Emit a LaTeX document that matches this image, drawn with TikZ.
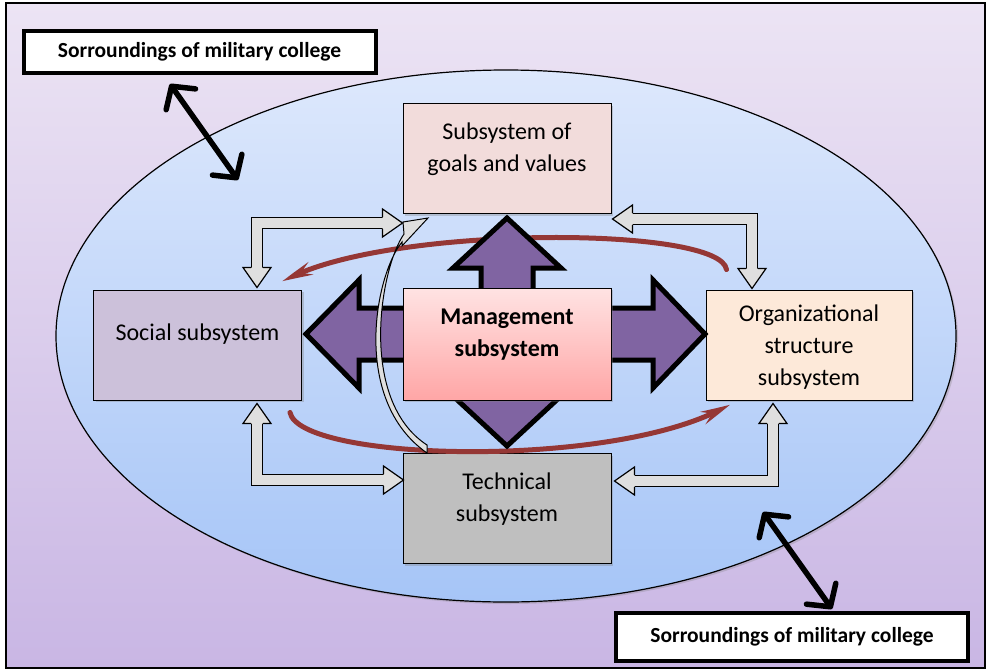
\documentclass[tikz,border=0pt]{standalone}
\usepackage{fontspec}
\setmainfont{Carlito}
\usepackage{tikz}
\usetikzlibrary{arrows.meta,bending,calc,shadows}

\definecolor{bgtop}{HTML}{ECE4F4}
\definecolor{bgbot}{HTML}{C9B6E4}
\definecolor{elltop}{HTML}{DDE8FC}
\definecolor{ellbot}{HTML}{A6C5F7}
\definecolor{goalsfill}{HTML}{F2DCDB}
\definecolor{socialfill}{HTML}{CCC1DA}
\definecolor{orgfill}{HTML}{FDE9D9}
\definecolor{techfill}{HTML}{BFBFBF}
\definecolor{mgmttop}{HTML}{FFE3E3}
\definecolor{mgmtbot}{HTML}{FFA6A6}
\definecolor{crossfill}{HTML}{8064A2}
\definecolor{loopred}{HTML}{953735}

\tikzset{
  subbox/.style={draw, line width=1pt, minimum width=208pt, minimum height=110pt, align=center,
    font=\fontsize{24}{32}\selectfont, text depth=22pt,
    drop shadow={shadow xshift=2pt, shadow yshift=-2pt, opacity=0.35}},
  envbox/.style={draw, fill=white, line width=4pt, minimum width=352pt, minimum height=42pt,
    font=\bfseries\fontsize{21.5}{24}\selectfont},
  gshaft/.style={draw=black, line width=1.2pt, double=gray!25, double distance=10pt},
  envarrow/.style={line width=5.5pt, {Straight Barb[length=16pt,width=36pt,round]}-{Straight Barb[length=16pt,width=36pt,round]}},
  loopline/.style={loopred, line width=5pt, line cap=round, -{Stealth[length=28pt,width=13pt,bend]}}
}

% head of a grey block arrow: tip, direction
\newcommand{\blockhead}[2]{%
  \begin{scope}[shift={(#1)}, rotate=#2]
    \fill[gray!25] (0,0) -- (-20,14) -- (-20,-14) -- cycle;
    \draw[line width=1.2pt, line join=miter] (-20,6.2) -- (-20,14) -- (0,0) -- (-20,-14) -- (-20,-6.2);
  \end{scope}}

\begin{document}
\begin{tikzpicture}[x=1pt, y=-1pt]
    \useasboundingbox (0,0) rectangle (987,670);
    \draw[line width=1.5pt, top color=bgtop, bottom color=bgbot] (6,3) rectangle (985,668);
    \draw[line width=1.2pt, top color=elltop, bottom color=ellbot, drop shadow={shadow xshift=2pt, shadow yshift=-2pt, opacity=0.3}]
        (506,336) ellipse [x radius=450, y radius=266];

    % surroundings
    \node[envbox] (envtop) at (199.5,52) {Sorroundings of military college};
    \node[envbox, minimum height=48pt] (envbot) at (792,637) {Sorroundings of military college};
    \coordinate (envtopin) at (238,180);
    \coordinate (envbotin) at (763,512);
    \draw[envarrow] ($(envtop.south)+(-29.5,9)$) -- (envtopin);
    \draw[envarrow] (envbotin) -- ($(envbot.north)+(40,-2)$);

    % subsystems
    \node[subbox, fill=goalsfill] (goals) at (507,158.5) {Subsystem of\\goals and values};
    \node[subbox, fill=socialfill, text depth=26pt] (social) at (197.5,345) {Social subsystem};
    \node[subbox, fill=orgfill, minimum width=206pt, text depth=0pt] (org) at (809,345) {Organizational\\structure\\subsystem};
    \node[subbox, fill=techfill] (tech) at (507,508.5) {Technical\\subsystem};

    % grey elbow arrows
    \coordinate (sgA) at ($(social.north)+(59.5,-2)$);
    \coordinate (sgB) at ($(goals.south west)+(0,9)$);
    \coordinate (goA) at ($(org.north)+(-57,-1)$);
    \coordinate (goB) at ($(goals.south east)+(1,5)$);
    \coordinate (stA) at ($(social.south)+(59.5,3)$);
    \coordinate (stB) at ($(tech.west)+(1,-28.5)$);
    \coordinate (otA) at ($(org.south)+(-36,3)$);
    \coordinate (otB) at ($(tech.east)+(3,-27.5)$);
    \draw[gshaft] ($(sgA)+(0,-19)$) |- ($(sgB)+(-19,0)$);
    \draw[gshaft] ($(goB)+(19,0)$) -| ($(goA)+(0,-19)$);
    \draw[gshaft] ($(stA)+(0,19)$) |- ($(stB)+(-19,0)$);
    \draw[gshaft] ($(otA)+(0,19)$) |- ($(otB)+(19,0)$);
    \blockhead{sgA}{270}
    \blockhead{sgB}{0}
    \blockhead{goA}{270}
    \blockhead{goB}{180}
    \blockhead{stA}{90}
    \blockhead{stB}{0}
    \blockhead{otA}{90}
    \blockhead{otB}{180}

    % red loop
    \draw[loopline] ($(org.north west)+(21,-20)$) .. controls (720,225) and (380,225) .. ($(social.north east)+(-19,-8)$);
    \draw[loopline] ($(social.south east)+(-12,12)$) .. controls (300,462) and (620,470) .. ($(org.south west)+(24,4)$);

    % purple cross
    \filldraw[fill=crossfill, line width=5pt, line join=miter]
        (507,218) -- (561,268) -- (533,268) -- (533,308) -- (653,308) -- (653,280) -- (705,334)
        -- (653,388) -- (653,360) -- (533,360) -- (533,396) -- (561,396) -- (507,446)
        -- (453,396) -- (481,396) -- (481,360) -- (359,360) -- (359,388) -- (306,334)
        -- (359,280) -- (359,308) -- (481,308) -- (481,268) -- (453,268) -- cycle;

    \node[subbox, top color=mgmttop, bottom color=mgmtbot, minimum height=112pt, font=\bfseries\fontsize{24}{32}\selectfont]
        (mgmt) at (507,344) {Management\\subsystem};

    % curved arrow goals - technical
    \filldraw[fill=gray!25, line width=1pt, line join=miter]
        (427,453) .. controls (351,400) and (375,275) .. (402,242) -- (402,246) -- (428,218) -- (403,222)
        -- (404,234) .. controls (380,268) and (358,400) .. (427,445) -- cycle;
\end{tikzpicture}
\end{document}
